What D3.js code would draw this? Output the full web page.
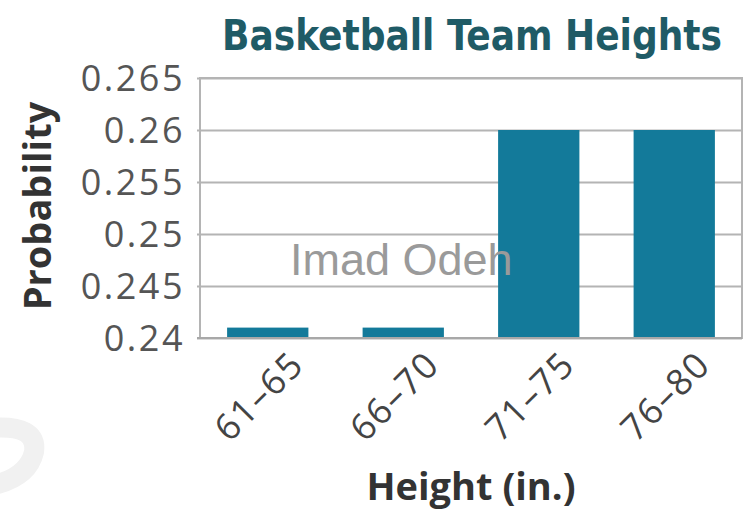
<!DOCTYPE html>
<html><head><meta charset="utf-8">
<script src="https://cdn.jsdelivr.net/npm/d3@7"></script>
<style>body{margin:0;background:#fff;} svg{display:block;}</style>
</head><body>
<script>
const categories = ["61–65", "66–70", "71–75", "76–80"];
const probabilities = [0.241, 0.241, 0.26, 0.26];
const yTicks = [0.24, 0.245, 0.25, 0.255, 0.26, 0.265];
const yTickLabels = ["0.24", "0.245", "0.25", "0.255", "0.26", "0.265"];
const title = "Basketball Team Heights";
const xTitle = "Height (in.)";
const yTitle = "Probability";
const watermark = "Imad Odeh";

const W = 756, H = 512;
const m = {left: 200, right: 14, top: 78, bottom: 174};
const svg = d3.select("body").append("svg").attr("width", W).attr("height", H);

// faint background mark, bottom-left
svg.append("path").attr("d", "M -10,428 Q 38,424 34,452 Q 28,478 -10,486")
  .attr("fill", "none").attr("stroke", "#f1f1f1").attr("stroke-width", 20).attr("stroke-linecap", "round");

const x = d3.scaleBand().domain(categories).range([m.left, W - m.right]).paddingInner(0.4).paddingOuter(0.2);
const y = d3.scaleLinear().domain([0.24, 0.265]).range([H - m.bottom, m.top]);

// gridlines + y labels via axis
const yAxis = d3.axisLeft(y).tickValues(yTicks).tickFormat((d, i) => yTickLabels[i])
  .tickSize(-(W - m.right - m.left + 3)).tickPadding(12);
const gy = svg.append("g").attr("transform", `translate(${m.left - 3},0)`).call(yAxis);
gy.select(".domain").remove();
gy.selectAll(".tick line").attr("stroke", "#b4b4b4").attr("stroke-width", 2);
gy.selectAll(".tick text").attr("fill", "#555").attr("font-family", "'Open Sans', sans-serif")
  .attr("font-size", 36).attr("letter-spacing", 2.5).attr("dy", "0.36em");

// frame
svg.append("rect").attr("x", m.left).attr("y", m.top)
  .attr("width", W - m.right - m.left).attr("height", H - m.bottom - m.top)
  .attr("fill", "none").attr("stroke", "#b4b4b4").attr("stroke-width", 2);

// bars
svg.append("g").selectAll("rect").data(categories).join("rect")
  .attr("x", d => x(d)).attr("width", x.bandwidth())
  .attr("y", (d, i) => y(probabilities[i]))
  .attr("height", (d, i) => y(0.24) - y(probabilities[i]))
  .attr("fill", "#137a9a");

// baseline
svg.append("line").attr("x1", m.left - 3).attr("x2", W - m.right)
  .attr("y1", y(0.24)).attr("y2", y(0.24)).attr("stroke", "#a8a8a8").attr("stroke-width", 2);

// x axis labels
const xAxis = d3.axisBottom(x).tickSize(0).tickPadding(0);
const gx = svg.append("g").attr("transform", `translate(0,${y(0.24)})`).call(xAxis);
gx.select(".domain").remove();
gx.selectAll(".tick text")
  .attr("fill", "#444").attr("font-family", "'Open Sans', sans-serif").attr("font-size", 36)
  .attr("letter-spacing", 1.5)
  .attr("text-anchor", "end").attr("dy", 0)
  .attr("transform", "translate(38,29) rotate(-45)");

// axis titles
svg.append("text").attr("x", 471).attr("y", 500).attr("text-anchor", "middle")
  .attr("font-family", "'Open Sans', sans-serif").attr("font-weight", "bold").attr("font-size", 38)
  .attr("fill", "#333").text(xTitle);
svg.append("text").attr("transform", "translate(51,206) rotate(-90)").attr("text-anchor", "middle")
  .attr("font-family", "'Open Sans', sans-serif").attr("font-weight", "bold").attr("font-size", 38)
  .attr("fill", "#333").text(yTitle);

// title
svg.append("text").attr("x", 472).attr("y", 50).attr("text-anchor", "middle")
  .attr("font-family", "'Liberation Sans Narrow', 'DejaVu Sans Condensed', sans-serif")
  .attr("font-weight", "bold").attr("font-size", 42)
  .attr("textLength", 500).attr("lengthAdjust", "spacingAndGlyphs")
  .attr("fill", "#1f5b66").text(title);

// watermark
svg.append("text").attr("x", 290).attr("y", 275)
  .attr("font-family", "'Liberation Sans', Arial, sans-serif").attr("font-size", 45)
  .attr("fill", "#9a9a9a").text(watermark);
</script>
</body></html>
